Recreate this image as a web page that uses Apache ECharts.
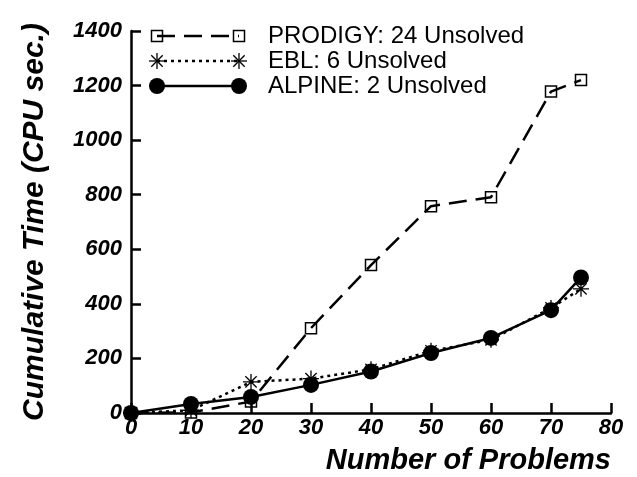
<!DOCTYPE html>
<html>
<head>
<meta charset="utf-8">
<script src="https://cdn.jsdelivr.net/npm/echarts@6/dist/echarts.min.js"></script>
<style>
  html, body { margin: 0; padding: 0; background: #fff; }
  #chart { width: 637px; height: 477px; }
</style>
</head>
<body>
<div id="chart"></div>
<script>
// data
var problems = [0, 10, 20, 30, 40, 50, 60, 70, 75];
var prodigy = [0, 2, 42, 311, 542, 758, 791, 1178, 1220];
var ebl = [0, 10, 114, 126, 160, 228, 268, 385, 455];
var alpine = [0, 33, 59, 103, 152, 220, 275, 377, 497];
var seriesNames = ["PRODIGY: 24 Unsolved", "EBL: 6 Unsolved", "ALPINE: 2 Unsolved"];

var FONT = "Liberation Sans";
var STAR = "path://M0,-10L0,10M-10,0L10,0M-7.07,-7.07L7.07,7.07M-7.07,7.07L7.07,-7.07";

function pairs(vals) {
  return problems.map(function (x, i) { return [x, vals[i]]; });
}

// hand-drawn legend: line with a symbol at each end, like the original
function legendRow(y, lineStyle, symbol, text) {
  var x0 = 157, x1 = 239;
  var els = [{
    type: "line",
    shape: { x1: x0, y1: y, x2: x1, y2: y },
    style: lineStyle
  }];
  [x0, x1].forEach(function (x) {
    if (symbol === "rect") {
      els.push({ type: "rect", shape: { x: x - 5.5, y: y - 5.5, width: 11, height: 11 },
        style: { fill: "none", stroke: "#000", lineWidth: 1.5 } });
    } else if (symbol === "circle") {
      els.push({ type: "circle", shape: { cx: x, cy: y, r: 8 }, style: { fill: "#000" } });
    } else {
      [[0, -8, 0, 8], [-8, 0, 8, 0], [-5.7, -5.7, 5.7, 5.7], [-5.7, 5.7, 5.7, -5.7]].forEach(function (s) {
        els.push({ type: "line", shape: { x1: x + s[0], y1: y + s[1], x2: x + s[2], y2: y + s[3] },
          style: { stroke: "#000", lineWidth: 1.3 } });
      });
    }
  });
  els.push({ type: "text", x: 268, y: y, style: { text: text, fill: "#000",
    font: "24px '" + FONT + "'", textVerticalAlign: "middle" } });
  return els;
}

var chart = echarts.init(document.getElementById("chart"));

var option = {
  animation: false,
  textStyle: { fontFamily: FONT },
  grid: { left: 131, right: 26, top: 31, bottom: 64 },
  xAxis: {
    type: "value",
    min: 0, max: 80, interval: 10,
    name: "Number of Problems",
    nameLocation: "end",
    nameGap: 0,
    nameTextStyle: { fontSize: 29, fontWeight: "bold", fontStyle: "italic", color: "#000",
      align: "right", verticalAlign: "top", padding: [33, 0, 0, 0] },
    axisLine: { lineStyle: { color: "#000", width: 2.5 } },
    axisTick: { inside: true, length: 10, lineStyle: { color: "#000", width: 2.5 } },
    axisLabel: { color: "#000", fontSize: 22, fontWeight: "bold", fontStyle: "italic", margin: 4 },
    splitLine: { show: false }
  },
  yAxis: {
    type: "value",
    min: 0, max: 1400, interval: 200,
    name: "Cumulative Time (CPU sec.)",
    nameLocation: "middle",
    nameGap: 81,
    nameTextStyle: { fontSize: 30, fontWeight: "bold", fontStyle: "italic", color: "#000" },
    axisLine: { show: true, lineStyle: { color: "#000", width: 2.5 } },
    axisTick: { show: true, inside: true, length: 10, lineStyle: { color: "#000", width: 2.5 } },
    axisLabel: { color: "#000", fontSize: 22, fontWeight: "bold", fontStyle: "italic", margin: 9,
      formatter: function (v) { return String(v); } },
    splitLine: { show: false }
  },
  series: [
    {
      name: seriesNames[0],
      type: "line",
      data: pairs(prodigy),
      symbol: "rect",
      symbolSize: 11,
      itemStyle: { color: "rgba(0,0,0,0)", borderColor: "#000", borderWidth: 1.5 },
      lineStyle: { color: "#000", width: 2.5, type: [18, 9] },
      z: 2
    },
    {
      name: seriesNames[1],
      type: "line",
      data: pairs(ebl),
      symbol: STAR,
      symbolSize: 16,
      itemStyle: { color: "rgba(0,0,0,0)", borderColor: "#000", borderWidth: 1.3 },
      lineStyle: { color: "#000", width: 2.5, type: [3, 4] },
      z: 3
    },
    {
      name: seriesNames[2],
      type: "line",
      data: pairs(alpine),
      symbol: "circle",
      symbolSize: 16,
      itemStyle: { color: "#000" },
      lineStyle: { color: "#000", width: 2.5 },
      z: 4
    }
  ],
  graphic: [].concat(
    legendRow(36, { stroke: "#000", lineWidth: 2.5, lineDash: [18, 9] }, "rect", seriesNames[0]),
    legendRow(61, { stroke: "#000", lineWidth: 2.5, lineDash: [3, 4] }, "star", seriesNames[1]),
    legendRow(86, { stroke: "#000", lineWidth: 2.5 }, "circle", seriesNames[2])
  )
};

chart.setOption(option);
</script>
</body>
</html>
